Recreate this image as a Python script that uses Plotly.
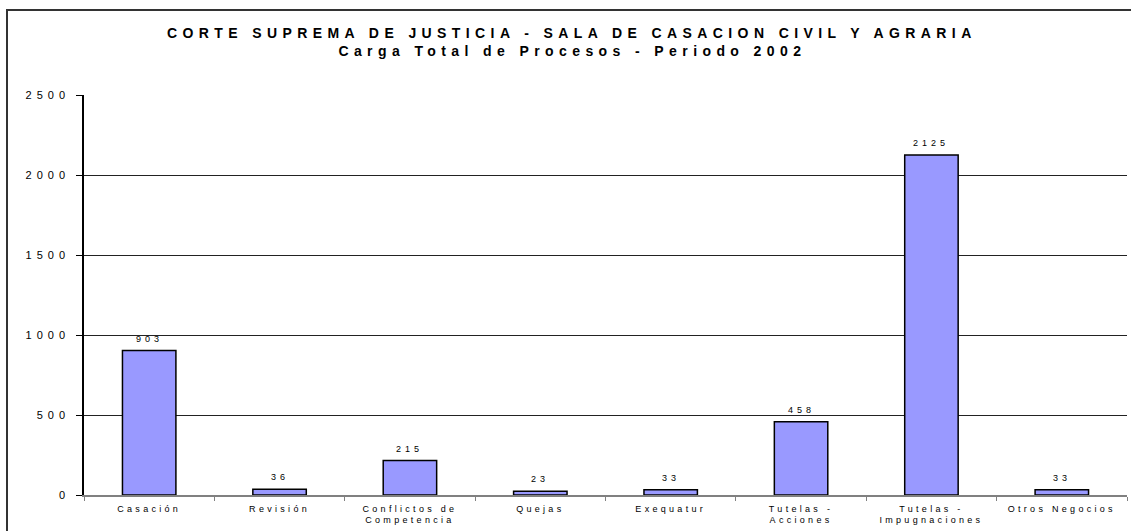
import plotly.graph_objects as go

categories = ["Casación", "Revisión", "Conflictos de<br>Competencia", "Quejas",
              "Exequatur", "Tutelas -<br>Acciones", "Tutelas -<br>Impugnaciones", "Otros Negocios"]
values = [903, 36, 215, 23, 33, 458, 2125, 33]
y_ticks = [0, 500, 1000, 1500, 2000, 2500]
title_line1 = "CORTE SUPREMA DE JUSTICIA - SALA DE CASACION CIVIL Y AGRARIA"
title_line2 = "Carga Total de Procesos - Periodo 2002"

W, H = 1131, 531
ml, mr, mt, mb = 84, 4, 95, 36
pw, ph = W - ml - mr, H - mt - mb

def px_to_paper_x(x):
    return (x - ml) / pw

def px_to_paper_y(y):
    return (H - mb - y) / ph

FONT = "Arial, Liberation Sans, sans-serif"

fig = go.Figure(go.Bar(
    x=categories, y=values,
    width=0.41,
    marker=dict(color="#9999FF", line=dict(color="#000000", width=1.5)),
    hoverinfo="x+y",
))

value_labels = [
    dict(x=c, y=v, xref="x", yref="y", text=str(v), showarrow=False,
         xanchor="center", yanchor="bottom", yshift=5,
         font=dict(family=FONT, size=9, color="#000"))
    for c, v in zip(categories, values)
]

title_annots = [
    dict(text="<b>" + title_line1 + "</b>", xref="paper", yref="paper",
         x=px_to_paper_x(572), y=px_to_paper_y(33), showarrow=False,
         xanchor="center", yanchor="middle",
         font=dict(family=FONT, size=14, color="#000")),
    dict(text="<b>" + title_line2 + "</b>", xref="paper", yref="paper",
         x=px_to_paper_x(572), y=px_to_paper_y(51), showarrow=False,
         xanchor="center", yanchor="middle",
         font=dict(family=FONT, size=14, color="#000")),
]

fig.update_layout(
    width=W, height=H,
    margin=dict(l=ml, r=mr, t=mt, b=mb, pad=0),
    paper_bgcolor="white", plot_bgcolor="white",
    showlegend=False,
    font=dict(family=FONT, size=9, color="#000"),
    xaxis=dict(
        showline=True, linecolor="#808080", linewidth=1.5,
        ticks="outside", ticklen=4, tickcolor="#808080", tickson="boundaries",
        showgrid=False, tickfont=dict(family=FONT, size=9, color="#000"),
        tickangle=0, ticklabelstandoff=4,
    ),
    yaxis=dict(
        range=[0, 2500], tickvals=y_ticks, ticktext=[str(v) for v in y_ticks],
        showline=True, linecolor="#000", linewidth=1.5,
        ticks="outside", ticklen=6, tickcolor="#000",
        showgrid=True, gridcolor="#222", gridwidth=1,
        zeroline=False, tickfont=dict(family=FONT, size=11, color="#000"),
        ticklabelstandoff=4,
    ),
    annotations=title_annots + value_labels,
    shapes=[
        dict(type="rect", xref="paper", yref="paper",
             x0=px_to_paper_x(7), x1=px_to_paper_x(1140),
             y0=px_to_paper_y(540), y1=px_to_paper_y(10),
             line=dict(color="#333", width=2), fillcolor="rgba(0,0,0,0)", layer="above"),
    ],
)

post = """
document.body.style.margin = '0';
document.body.style.padding = '0';
var gd = document.getElementById('{plot_id}');
var ann = gd.querySelectorAll('.annotation-text');
ann.forEach(function(t, i){ t.style.letterSpacing = (i < 2) ? '5.4px' : '4px'; });
gd.querySelectorAll('.ytick text').forEach(function(t){ t.style.letterSpacing='5px'; });
gd.querySelectorAll('.xtick text').forEach(function(t){ t.style.letterSpacing='3.3px'; });
"""

fig.write_html("out.html", post_script=post, config={"displayModeBar": False})
